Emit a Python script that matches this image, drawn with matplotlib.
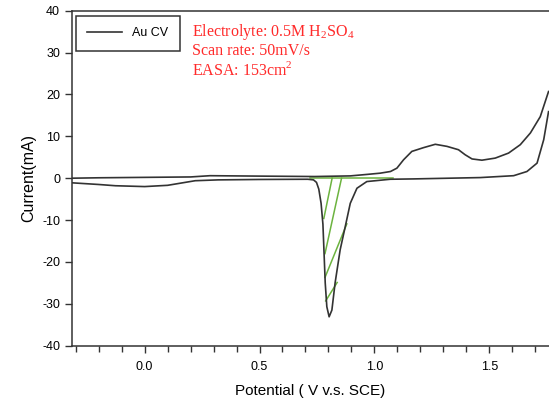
import matplotlib.pyplot as plt
from matplotlib.ticker import MultipleLocator

# forward (anodic) scan
fwdPotential = [-0.317, -0.2, 0.0, 0.2, 0.285, 0.5, 0.74, 0.895, 0.967, 1.025, 1.07, 1.098, 1.127,
                1.163, 1.214, 1.265, 1.316, 1.366, 1.395, 1.425, 1.468, 1.526, 1.584, 1.635,
                1.679, 1.722, 1.758]
fwdCurrent = [0.0, 0.1, 0.2, 0.3, 0.6, 0.5, 0.4, 0.55, 0.9, 1.2, 1.6, 2.4, 4.4,
              6.4, 7.3, 8.1, 7.6, 6.8, 5.6, 4.6, 4.3, 4.8, 6.0, 8.0,
              10.8, 14.7, 20.7]

# reverse (cathodic) scan
revPotential = [1.758, 1.737, 1.708, 1.664, 1.606, 1.461, 1.17, 1.069, 0.967, 0.924, 0.895, 0.873,
                0.851, 0.829, 0.815, 0.803, 0.793, 0.786, 0.781, 0.776, 0.768, 0.758, 0.748, 0.735,
                0.71, 0.5, 0.32, 0.22, 0.10, 0.0, -0.127, -0.2, -0.317]
revCurrent = [15.9, 9.2, 3.6, 1.6, 0.6, 0.15, -0.17, -0.25, -0.8, -2.4, -6.0, -11.6,
              -17.1, -25.0, -31.5, -33.1, -30.7, -25.0, -18.0, -11.0, -6.0, -2.6, -1.0, -0.4,
              -0.25, -0.3, -0.4, -0.6, -1.7, -2.0, -1.8, -1.5, -1.1]

# integration baseline and hatch lines
baseX = [0.72, 1.08]
baseY = [0.0, 0.0]
hatchX = [[0.816, 0.78], [0.857, 0.785], [0.88, 0.785], [0.838, 0.788]]
hatchY = [[0.0, -9.6], [0.0, -18.0], [-10.9, -23.7], [-24.9, -29.3]]

lineColor = '#333333'
green = '#6cb33f'
red = '#ff2a2a'

plt.rcParams['mathtext.fontset'] = 'custom'
plt.rcParams['mathtext.rm'] = 'Liberation Serif'
plt.rcParams['axes.unicode_minus'] = False

fig = plt.figure(figsize=(5.49, 4.04), dpi=100)
ax = fig.add_axes([0.1308, 0.1443, 0.8692, 0.8292])

ax.plot(baseX, baseY, color=green, lw=1.1)
for hx, hy in zip(hatchX, hatchY):
    ax.plot(hx, hy, color=green, lw=1.1)

au, = ax.plot(fwdPotential, fwdCurrent, color=lineColor, lw=1.2)
ax.plot(revPotential, revCurrent, color=lineColor, lw=1.2)

ax.set_xlim(-0.317, 1.76)
ax.set_ylim(-40, 40)
ax.xaxis.set_major_locator(MultipleLocator(0.5))
ax.xaxis.set_minor_locator(MultipleLocator(0.1))
ax.yaxis.set_major_locator(MultipleLocator(10))
ax.xaxis.set_major_formatter(plt.FuncFormatter(lambda v, p: "%.1f" % v))
ax.tick_params(which='both', direction='out', labelsize=9, color=lineColor, width=1.0)
ax.tick_params(which='major', length=5)
ax.tick_params(which='minor', length=4)
ax.tick_params(axis='x', pad=6)
ax.spines['right'].set_visible(False)
for s in ['left', 'bottom', 'top']:
    ax.spines[s].set_color(lineColor)
    ax.spines[s].set_linewidth(1.1)

for lab in ax.get_xticklabels() + ax.get_yticklabels():
    lab.set_family('Liberation Sans')

ax.set_xlabel("Potential ( V v.s. SCE)", family='Liberation Sans', fontsize=11, labelpad=8)
ax.set_ylabel("Current(mA)", family='Liberation Sans', fontsize=11.5, labelpad=4)

leg = ax.legend([au], ["Au CV"], loc='upper left', bbox_to_anchor=(0.009, 0.984),
                borderaxespad=0, prop={'family': 'Liberation Sans', 'size': 9}, fancybox=False,
                edgecolor=lineColor, framealpha=1, handlelength=2.8, borderpad=0.9,
                handletextpad=0.8)
leg.get_frame().set_linewidth(1.1)

ax.text(0.251, 0.937, "Electrolyte: 0.5M H$_\\mathrm{2}$SO$_\\mathrm{4}$", transform=ax.transAxes,
        color=red, family='Liberation Serif', fontsize=11.5, va='center')
ax.text(0.251, 0.881, "Scan rate: 50mV/s", transform=ax.transAxes,
        color=red, family='Liberation Serif', fontsize=11.5, va='center')
ax.text(0.251, 0.823, "EASA: 153cm$^\\mathrm{2}$", transform=ax.transAxes,
        color=red, family='Liberation Serif', fontsize=11.5, va='center')

fig.savefig("out.png", dpi=100)
